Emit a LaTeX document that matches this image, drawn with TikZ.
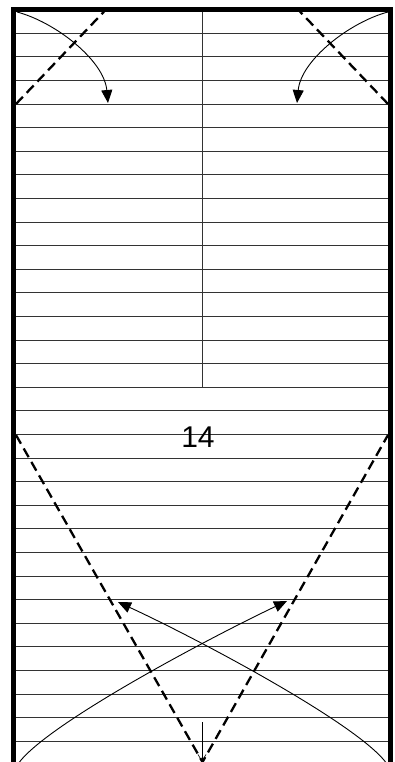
\documentclass[tikz,border=0pt]{standalone}
\usepackage{fontspec}
\setmainfont{Liberation Sans}
\usetikzlibrary{arrows.meta}

\begin{document}
\begin{tikzpicture}[
      x=1pt, y=-1pt,
      rule/.style={line width=0.6pt, black!80},
      wall/.style={line width=4.8pt, line join=miter},
      fold/.style={line width=2.3pt, dash pattern=on 10pt off 5.5pt},
      move/.style={line width=0.9pt, -{Triangle[length=13pt, width=11pt]}},
      drop/.style={line width=0.6pt, -{Straight Barb[length=7pt, width=8pt]}}
    ]
      \useasboundingbox (0,0) rectangle (395,762);

      % ruled rows
      \foreach \k in {1,...,31}
        \draw[rule] (16,{9.5+23.6*\k}) -- (388,{9.5+23.6*\k});
      \draw[rule] (202,9.5) -- (202,{9.5+23.6*16});

      \node[font=\fontsize{30}{36}\selectfont, anchor=base] (num) at (198,447) {14};

      % fold lines
      \coordinate (ftl) at (16,104);
      \coordinate (ftt) at (106,9.5);
      \coordinate (ftr) at (388,104);
      \coordinate (ftu) at (298,9.5);
      \coordinate (fbl) at (16,435);
      \coordinate (fbr) at (388,435);
      \coordinate (fbm) at (202.5,762);
      \draw[fold] (ftl) -- (ftt);
      \draw[fold] (ftr) -- (ftu);
      \draw[fold] (fbl) -- (fbm) -- (fbr);

      % moves
      \coordinate (sl) at (17,12);
      \coordinate (el) at (108,103);
      \coordinate (sr) at (388,12);
      \coordinate (er) at (297,103);
      \draw[move] (sl) .. controls (55,22) and (104,60) .. (el);
      \draw[move] (sr) .. controls (350,22) and (301,60) .. (er);

      \coordinate (bl) at (18,764);
      \coordinate (br) at (387,764);
      \coordinate (tipr) at (287,601);
      \coordinate (tipl) at (118,602);
      \draw[move] (bl) .. controls (45,725) and (207,639) .. (tipr);
      \draw[move] (br) .. controls (360,725) and (198,639) .. (tipl);

      \coordinate (dtop) at (202,722);
      \coordinate (dbot) at (202,762);
      \draw[drop] (dtop) -- (dbot);

      % walls
      \draw[wall] (13.5,762) -- (13.5,9.5) -- (390.5,9.5) -- (390.5,762);
    \end{tikzpicture}
\end{document}
